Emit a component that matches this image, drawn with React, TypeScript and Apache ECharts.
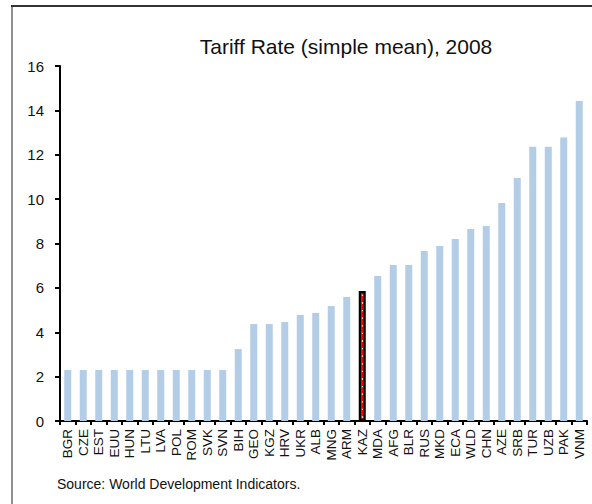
import React, { useEffect, useRef } from "react";
import * as echarts from "echarts";

const countries = [
  "BGR", "CZE", "EST", "EUU", "HUN", "LTU", "LVA", "POL", "ROM", "SVK", "SVN",
  "BIH", "GEO", "KGZ", "HRV", "UKR", "ALB", "MNG", "ARM", "KAZ", "MDA", "AFG",
  "BLR", "RUS", "MKD", "ECA", "WLD", "CHN", "AZE", "SRB", "TUR", "UZB", "PAK", "VNM",
];

const tariffRates = [
  2.3, 2.3, 2.3, 2.3, 2.3, 2.3, 2.3, 2.3, 2.3, 2.3, 2.3,
  3.24, 4.37, 4.37, 4.46, 4.78, 4.87, 5.18, 5.59, 5.86, 6.53, 7.03,
  7.03, 7.66, 7.89, 8.2, 8.65, 8.79, 9.82, 10.95, 12.36, 12.36, 12.78, 14.42,
];

const highlighted = "KAZ";
const yTicks = { min: 0, max: 16, interval: 2 };

const FONT = "'Liberation Sans', Arial, sans-serif";

export default function App() {
  const ref = useRef<HTMLDivElement>(null);

  useEffect(() => {
    if (!ref.current) return;
    const chart = echarts.init(ref.current, null, { renderer: "svg" });
    const hiIndex = countries.indexOf(highlighted);
    const hiValue = tariffRates[hiIndex];

    chart.setOption({
      animation: false,
      backgroundColor: "#ffffff",
      title: {
        text: "Tariff Rate (simple mean), 2008",
        left: 341,
        top: 31,
        textAlign: "center",
        textStyle: { fontFamily: FONT, fontSize: 21, fontWeight: "normal", color: "#111" },
      },
      grid: { left: 60, right: 5, top: 66, bottom: 83, containLabel: false },
      xAxis: {
        type: "category",
        data: countries,
        axisLine: { lineStyle: { color: "#000", width: 2 } },
        axisTick: { show: true, length: 4, lineStyle: { color: "#000", width: 2 } },
        axisLabel: {
          rotate: 90,
          interval: 0,
          margin: 8,
          fontFamily: FONT,
          fontSize: 13.5,
          color: "#111",
        },
      },
      yAxis: {
        type: "value",
        min: yTicks.min,
        max: yTicks.max,
        interval: yTicks.interval,
        axisLine: { show: true, lineStyle: { color: "#000", width: 2 } },
        axisTick: { show: true, length: 5, lineStyle: { color: "#000", width: 2 } },
        splitLine: { show: false },
        axisLabel: { margin: 16, fontFamily: FONT, fontSize: 15, color: "#111" },
      },
      series: [
        {
          type: "bar",
          barWidth: 7,
          data: tariffRates.map((v, i) =>
            i === hiIndex
              ? {
                  value: v,
                  itemStyle: { color: "#ff0000", borderColor: "#000", borderWidth: 2.2 },
                }
              : { value: v, itemStyle: { color: "#b3cde6" } }
          ),
          markLine: {
            silent: true,
            symbol: ["none", "none"],
            label: { show: false },
            lineStyle: { color: "#ffffff", width: 1.3, type: [1.3, 6.3], opacity: 1 },
            data: [[{ coord: [highlighted, 0.15] }, { coord: [highlighted, hiValue - 0.15] }]],
          },
        },
      ],
      graphic: [
        {
          type: "line",
          shape: { x1: 11, y1: 6, x2: 592, y2: 6 },
          style: { stroke: "#333", lineWidth: 2 },
        },
        {
          type: "line",
          shape: { x1: 12, y1: 6, x2: 12, y2: 504 },
          style: { stroke: "#222", lineWidth: 1 },
        },
        {
          type: "text",
          left: 57,
          top: 477,
          style: {
            text: "Source: World Development Indicators.",
            fontFamily: FONT,
            fontSize: 14,
            fill: "#111",
          },
        },
      ],
    });

    return () => chart.dispose();
  }, []);

  return (
    <div
      ref={ref}
      style={{ position: "fixed", left: 0, top: 0, width: 592, height: 504 }}
    />
  );
}
